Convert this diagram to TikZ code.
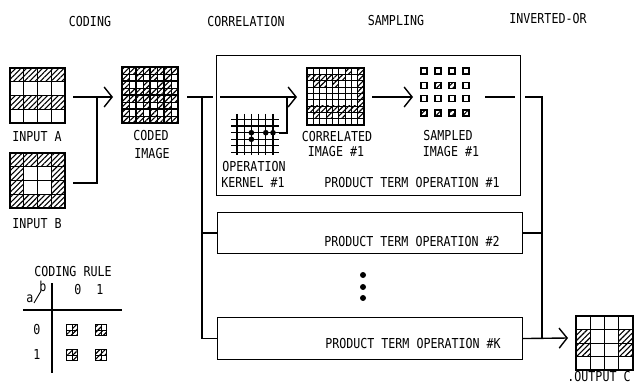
\documentclass[tikz,border=0pt]{standalone}
\usepackage{fontspec}
\newfontfamily\lpfont[FakeStretch=0.85]{DejaVu Sans Mono}
\usetikzlibrary{arrows.meta,patterns.meta}
\tikzset{
  lbl/.style={font=\lpfont\fontsize{13.7}{16}\selectfont, inner sep=0pt},
  hatch/.style={pattern={Lines[angle=45,distance=3.8pt,line width=1.1pt]}},
  gridln/.style={line width=0.9pt},
  frame/.style={draw=none, inner sep=0pt, anchor=north west},
  opbox/.style={draw, line width=1.1pt, inner sep=0pt, anchor=north west},
  wire/.style={line width=1.4pt},
  chev/.style={-{Straight Barb[length=8pt,width=20pt]}},
  dot/.style={circle, fill, inner sep=0pt, minimum size=6pt},
}
\newcommand\pxgrid[6]{%
  \foreach \i in {0,...,#5} {\draw[gridln] ({#1+\i*#3},#2) -- ++(0,{#6*#4});}
  \foreach \j in {0,...,#6} {\draw[gridln] (#1,{#2+\j*#4}) -- ++({#5*#3},0);}
}
\newcommand\rulecell[4]{%
  \fill[hatch] ({#1-5.5},{#2-5.5}) rectangle ++(11,11);
  \fill[white] ({#1-5.5+#4*5.5},{#2-5.5+#3*5.5}) rectangle ++(5.5,5.5);
  \draw[line width=0.6pt] (#1,{#2-5.5}) -- ++(0,11) ({#1-5.5},#2) -- ++(11,0);
  \draw[line width=1.2pt] ({#1-5.5},{#2-5.5}) rectangle ++(11,11);
}
\begin{document}
\begin{tikzpicture}[x=1pt,y=-1pt]
\useasboundingbox (0,0) rectangle (635,385);

% headings
\node[lbl] (hCod) at (90,22) {CODING};
\node[lbl] (hCor) at (246,22) {CORRELATION};
\node[lbl] (hSam) at (396,21) {SAMPLING};
\node[lbl] (hInv) at (548,19) {INVERTED-OR};

% ---------- input A ----------
\node[frame, minimum width=55pt, minimum height=55pt] (inA) at (10,68) {};
\foreach \r in {0,2} {\fill[hatch] (10,{68+\r*13.75}) rectangle ++(55,13.75);}
\pxgrid{10}{68}{13.75}{13.75}{4}{4}
\draw[line width=1.2pt] (10,68) rectangle ++(55,55);
\node[lbl] (labA) at (37,137) {INPUT A};

% ---------- input B ----------
\node[frame, minimum width=55pt, minimum height=55pt] (inB) at (10,153) {};
\fill[hatch] (10,153) rectangle ++(55,55);
\fill[white] (23.75,166.75) rectangle ++(27.5,27.5);
\pxgrid{10}{153}{13.75}{13.75}{4}{4}
\draw[line width=1.2pt] (10,153) rectangle ++(55,55);
\node[lbl] (labB) at (37,224) {INPUT B};

% ---------- coded image ----------
\node[frame, minimum width=56pt, minimum height=56pt] (coded) at (122,67) {};
\fill[hatch] (122,67) rectangle ++(56,56);
\foreach \r in {0,...,3}{\foreach \c in {0,...,3}{
  \pgfmathtruncatemacro\av{(\r==0||\r==2)?1:0}
  \pgfmathtruncatemacro\bv{(\r==0||\r==3||\c==0||\c==3)?1:0}
  \fill[white] ({122+(2*\c+\bv)*7},{67+(2*\r+\av)*7}) rectangle ++(7,7);
}}
\pxgrid{122}{67}{7}{7}{8}{8}
\foreach \k in {1,2,3} {\draw[line width=1.2pt] ({122+\k*14},67) -- ++(0,56) (122,{67+\k*14}) -- ++(56,0);}
\draw[line width=1.5pt] (122,67) rectangle ++(56,56);
\node[lbl] (labC1) at (151,136) {CODED};
\node[lbl] (labC2) at (152,154) {IMAGE};

% ---------- connectors: coding ----------
\coordinate (aOut) at (73,97);
\coordinate (bOut) at (73,183);
\coordinate (jAB) at (97,97);
\coordinate (cTip) at (113,97);
\draw[wire,chev] (aOut) -- (cTip);
\draw[wire] (bOut) -| (jAB);

% ---------- product term boxes ----------
\node[opbox, minimum width=304pt, minimum height=140pt] (box1) at (216,55) {};
\node[opbox, minimum width=305pt, minimum height=41pt] (box2) at (217,212) {};
\node[opbox, minimum width=305pt, minimum height=42pt] (boxK) at (217,317) {};
\node[lbl] (pt1) at (412,183) {PRODUCT TERM OPERATION \#1};
\node[lbl] (pt2) at (412,242) {PRODUCT TERM OPERATION \#2};
\node[lbl] (ptK) at (413,344) {PRODUCT TERM OPERATION \#K};
\node[dot] (d1) at (363,275) {};
\node[dot] (d2) at (363,287) {};
\node[dot] (d3) at (363,298) {};

% ---------- correlation connectors ----------
\coordinate (codOut) at (187,97);
\coordinate (split) at (202,97);
\coordinate (b1edge) at (213,97);
\coordinate (b1in) at (220,97);
\coordinate (corTip) at (297,97);
\draw[wire] (codOut) -- (b1edge);
\draw[wire] (split) |- (box2.west);
\draw[wire] (split) |- (boxK.west);
\draw[wire,chev] (b1in) -- (corTip);

% ---------- kernel ----------
\node[frame, minimum width=46pt, minimum height=40pt] (kern) at (232,115) {};
\foreach \i in {0,...,5} {\draw[line width=1.2pt] ({237+\i*7.2},114) -- ++(0,41);}
\foreach \j in {0,...,5} {\draw[line width=1.2pt] (231,{119.5+\j*6.6}) -- ++(48,0);}
\fill (251.4,132.7) circle (2.8) (265.8,132.7) circle (2.8) (273,132.7) circle (2.8) (251.4,139.3) circle (2.8);
\coordinate (kOut) at (279,133);
\coordinate (kJoin) at (287,97);
\draw[wire] (kOut) -| (kJoin);
\node[lbl] (labK1) at (254,167) {OPERATION};
\node[lbl] (labK2) at (253,183) {KERNEL \#1};

% ---------- correlated image ----------
\node[frame, minimum width=57pt, minimum height=57pt] (corr) at (307,68) {};
\foreach \r/\c in {0/6,0/8,1/0,1/1,1/2,1/3,1/4,1/5,1/8,2/1,2/2,2/4,2/8,3/8,4/8,5/8,
  6/0,6/1,6/2,6/3,6/4,6/5,6/6,6/7,6/8,7/1,7/3,7/5,7/8}
  {\fill[hatch] ({307+\c*6.333},{68+\r*6.333}) rectangle ++(6.333,6.333);}
\pxgrid{307}{68}{6.333}{6.333}{9}{9}
\draw[line width=2pt] (307,68) rectangle ++(57,57);
\node[lbl] (labR1) at (337,137) {CORRELATED};
\node[lbl] (labR2) at (336,152) {IMAGE \#1};

% ---------- sampling ----------
\coordinate (corOut) at (372,97);
\coordinate (samTip) at (413,97);
\draw[wire,chev] (corOut) -- (samTip);
\node[frame, minimum width=50pt, minimum height=48pt] (samp) at (420,67) {};
\foreach \r/\yy in {0/71,1/85.5,2/98.5,3/113}{
  \foreach \c/\xx in {0/424,1/438,2/452,3/466}{
    \pgfmathtruncatemacro\hh{((\r==1&&(\c==1||\c==2))||\r==3)?1:0}
    \ifnum\hh=1 \fill[hatch] ({\xx-3},{\yy-3}) rectangle ++(6,6);\fi
    \draw[line width=1.6pt] ({\xx-3},{\yy-3}) rectangle ++(6,6);
  }}
\node[lbl] (labS1) at (448,136) {SAMPLED};
\node[lbl] (labS2) at (451,152) {IMAGE \#1};

% ---------- inverted-OR ----------
\coordinate (s1out) at (485,97);
\coordinate (s1edge) at (515,97);
\coordinate (s1ext) at (525,97);
\coordinate (orBus) at (542,338);
\coordinate (outTip) at (568,338);
\draw[wire] (s1out) -- (s1edge);
\draw[wire] (s1ext) -| (orBus);
\draw[wire] (box2.east) -- (box2.east -| orBus);
\draw[wire,chev] (boxK.east) -- (outTip);

% ---------- output C ----------
\node[frame, minimum width=57pt, minimum height=54pt] (outC) at (576,316) {};
\foreach \r/\c in {1/0,2/0,1/3,2/3}
  {\fill[hatch] ({576+\c*14.25},{316+\r*13.5}) rectangle ++(14.25,13.5);}
\pxgrid{576}{316}{14.25}{13.5}{4}{4}
\draw[line width=1.2pt] (576,316) rectangle ++(57,54);
\node[lbl] (labO) at (599,377) {.OUTPUT C};

% ---------- coding rule ----------
\node[lbl] (ruleT) at (73,272) {CODING RULE};
\node[lbl] (ra) at (30,299) {a};
\node[lbl] (rb) at (43,286) {b};
\draw[line width=0.9pt] (34,303) -- (41,291);
\draw[line width=1.2pt] (52,283) -- (52,373);
\draw[line width=1.2pt] (23,310) -- (122,310);
\node[lbl] (c0) at (78,290) {0};
\node[lbl] (c1) at (100,290) {1};
\node[lbl] (r0) at (37,330) {0};
\node[lbl] (r1) at (37,355) {1};
\rulecell{72}{330}{0}{0}
\rulecell{101}{330}{0}{1}
\rulecell{72}{355}{1}{0}
\rulecell{101}{355}{1}{1}
\end{tikzpicture}
\end{document}
